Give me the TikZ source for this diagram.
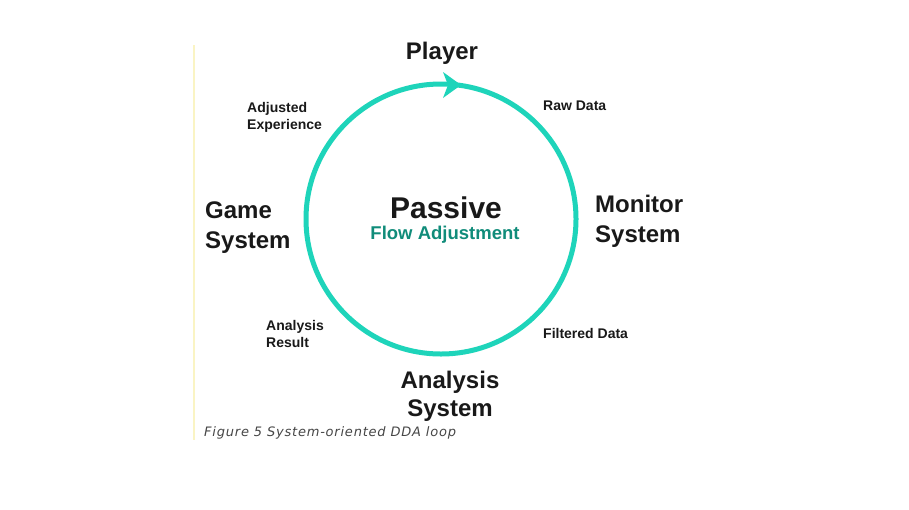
\documentclass[tikz,border=0pt]{standalone}
\usepackage{fontspec}
\setmainfont{Liberation Sans}
\newfontfamily\capfont[LetterSpace=6]{DejaVu Sans}
\definecolor{loopteal}{RGB}{30,212,186}
\definecolor{flowteal}{RGB}{16,140,122}
\definecolor{ink}{RGB}{25,25,25}
\definecolor{captiongray}{RGB}{70,70,70}
\definecolor{marginyellow}{RGB}{250,244,196}
\tikzset{
  bigstage/.style={font=\bfseries\fontsize{24}{30}\selectfont, text=ink, inner sep=0pt, align=left},
  flowlabel/.style={font=\bfseries\fontsize{14}{17}\selectfont, text=ink, inner sep=0pt, align=left},
  loopline/.style={draw=loopteal, line width=5pt},
}
\begin{document}
\begin{tikzpicture}[x=1pt,y=-1pt]
  \useasboundingbox (0,0) rectangle (909,509);
  \fill[white] (0,0) rectangle (909,509);
  % margin rule of the page
  \draw[marginyellow, line width=1.2pt] (194,45) -- (194,440);
  % the loop
  \coordinate (hub) at (441,219);
  \draw[loopline] (hub) circle[radius=135];
  \fill[loopteal] (461,85) -- (443,72) -- (448,85) -- (443,98) -- cycle;
  % centre title
  \node[font=\bfseries\fontsize{30}{34}\selectfont, text=ink, inner sep=0pt, anchor=base] (passive) at (446,218) {Passive};
  \node[font=\bfseries\fontsize{18.5}{22}\selectfont, text=flowteal, inner sep=0pt, anchor=base] (flow) at (445,239) {Flow Adjustment};
  % stages
  \node[bigstage, anchor=base] (player) at (442,59) {Player};
  \node[bigstage, anchor=base west] (monitor) at (595,212) {Monitor};
  \node[bigstage, anchor=base west] (monitor2) at (595,242) {System};
  \node[bigstage, anchor=base west] (game) at (205,218) {Game};
  \node[bigstage, anchor=base west] (game2) at (205,248) {System};
  \node[bigstage, anchor=base] (analysis) at (450,388) {Analysis};
  \node[bigstage, anchor=base] (analysis2) at (450,416) {System};
  % flow labels
  \node[flowlabel, anchor=base west] (raw) at (543,110) {Raw Data};
  \node[flowlabel, anchor=base west] (filtered) at (543,338) {Filtered Data};
  \node[flowlabel, anchor=base west] (adjusted) at (247,112) {Adjusted};
  \node[flowlabel, anchor=base west] (adjusted2) at (247,129) {Experience};
  \node[flowlabel, anchor=base west] (result) at (266,330) {Analysis};
  \node[flowlabel, anchor=base west] (result2) at (266,347) {Result};
  % caption
  \node[font=\capfont\itshape\fontsize{13}{15}\selectfont, text=captiongray, inner sep=0pt, anchor=base west] (caption) at (204,436) {Figure 5 System-oriented DDA loop};
\end{tikzpicture}
\end{document}
